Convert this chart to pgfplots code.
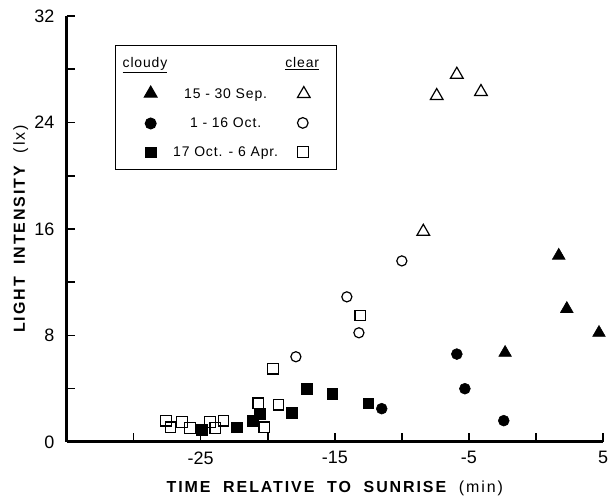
\documentclass[border=0pt]{standalone}
\usepackage{fontspec}
\setmainfont{Liberation Sans}
\newfontfamily\labfont[LetterSpace=12]{Liberation Sans}
\newfontfamily\legfont[LetterSpace=6]{Liberation Sans}
\usepackage{pgfplots}
\pgfplotsset{compat=1.18}

% open marker typed into the legend text (right-hand "clear" column)
\newcommand{\openmark}[2]{\tikz[baseline=-0.6ex]{\pgfsetlinewidth{0.9pt}\pgfsetplotmarksize{#2}\pgfuseplotmark{#1}}}

\begin{document}
\begin{tikzpicture}
\begin{axis}[
    scale only axis,
    width=403pt, height=320pt,
    xmin=-35, xmax=5, ymin=0, ymax=32,
    axis lines=left,
    axis line style={-, line width=2.2pt},
    tick align=inside,
    major tick length=6.5pt,
    tick style={line width=1.2pt, black},
    xtick={-30,-25,...,5},
    xticklabels={,-25,,-15,,-5,,5},
    ytick={0,4,...,32},
    yticklabels={0,,8,,16,,24,,32},
    tick label style={font=\fontsize{13.5}{15}\selectfont, inner sep=1pt},
    xticklabel style={yshift=-6pt},
    yticklabel style={xshift=-8pt},
    xlabel={\labfont\fontsize{12}{14}\selectfont\bfseries TIME\ \ RELATIVE\ \ TO\ \ SUNRISE\ \ \mdseries(min)},
    ylabel={\labfont\fontsize{12}{14}\selectfont\bfseries LIGHT\ \ INTENSITY\ \ \mdseries(lx)},
    xlabel style={yshift=-8pt},
    ylabel style={yshift=0pt},
    clip=false,
    legend style={at={(axis cs:-31.4,29.8)}, anchor=north west,
        draw=black, line width=0.8pt, inner xsep=18pt, inner ysep=6.5pt,
        font=\legfont\fontsize{10.5}{12}\selectfont, row sep=9pt},
    legend cell align=left,
]
\addlegendimage{empty legend}
\addlegendentry{\makebox[111.5pt]{\hspace*{-28pt}\underline{cloudy}\hfill\underline{clear}\hspace*{-8pt}}}

% clear (open symbols)
\addplot[only marks, mark=triangle, mark size=5.5pt, mark options={line width=0.9pt}, forget plot]
    coordinates {(-8.4,15.8) (-7.4,26.0) (-5.9,27.6) (-4.1,26.3)};
\addplot[only marks, mark=o, mark size=3.8pt, mark options={line width=0.9pt}, forget plot]
    coordinates {(-17.9,6.4) (-14.1,10.9) (-13.2,8.2) (-10.0,13.6)};
\addplot[only marks, mark=square, mark size=4pt, mark options={line width=0.9pt}, forget plot]
    coordinates {(-27.6,1.6) (-27.25,1.1) (-26.4,1.5) (-25.8,1.05) (-24.3,1.5)
                 (-23.9,1.05) (-23.3,1.6) (-20.25,1.1) (-20.7,2.9) (-19.2,2.8)
                 (-19.6,5.5) (-13.1,9.5)};

% cloudy (filled symbols)
\addplot[only marks, mark=triangle*, mark size=5.5pt, black]
    coordinates {(1.7,14.0) (2.3,10.0) (4.7,8.2) (-2.3,6.7)};
\addlegendentry{\makebox[99pt][c]{15 - 30 Sep.}\hspace{4.5pt}\openmark{triangle}{5.5pt}}
\addplot[only marks, mark=*, mark size=4.1pt, black]
    coordinates {(-11.5,2.5) (-5.9,6.6) (-5.3,4.0) (-2.4,1.6)};
\addlegendentry{\makebox[99pt][c]{1 - 16 Oct.}\hspace{4.5pt}\openmark{o}{4pt}}
\addplot[only marks, mark=square*, mark size=4pt, black]
    coordinates {(-24.9,0.9) (-22.3,1.1) (-21.1,1.6) (-20.6,2.1) (-18.2,2.2)
                 (-17.1,4.0) (-15.2,3.6) (-12.5,2.9)};
\addlegendentry{\makebox[99pt][c]{17 Oct. - 6 Apr.}\hspace{4.5pt}\openmark{square}{4pt}}
\end{axis}
% fix the page to the reference's margins round the axis box
\pgfresetboundingbox
\path ([xshift=-50pt,yshift=12pt]current axis.north west)
    rectangle ([xshift=3.75pt,yshift=-45.75pt]current axis.south east);
\end{tikzpicture}
\end{document}
